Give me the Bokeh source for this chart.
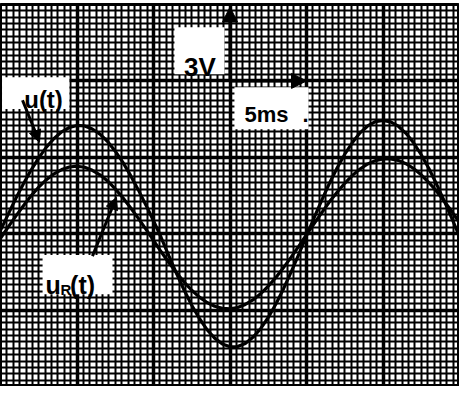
from bokeh.plotting import figure
from bokeh.models import ColumnDataSource, FixedTicker, Label, BoxAnnotation, Arrow, NormalHead
from bokeh.embed import file_html
from bokeh.resources import INLINE
import numpy as np

# time in ms (5 ms per major division), voltage in V (3 V per major division)
t_ms = [0.0, 0.5, 1.0, 1.5, 2.0, 2.5, 3.0, 3.5, 4.0, 4.5, 5.0, 5.5, 6.0, 6.5, 7.0, 7.5,
        8.0, 8.5, 9.0, 9.5, 10.0, 10.5, 11.0, 11.5, 12.0, 12.5, 13.0, 13.5, 14.0, 14.5,
        15.0, 15.5, 16.0, 16.5, 17.0, 17.5, 18.0, 18.5, 19.0, 19.5, 20.0, 20.5, 21.0,
        21.5, 22.0, 22.5, 23.0, 23.5, 24.0, 24.5, 25.0, 25.5, 26.0, 26.5, 27.0, 27.5,
        28.0, 28.5, 29.0, 29.5, 30.0]
u_t = [0.13, 0.76, 1.38, 1.96, 2.50, 2.98, 3.40, 3.74, 4.00, 4.17, 4.25, 4.23, 4.11, 3.91,
       3.62, 3.24, 2.80, 2.29, 1.73, 1.13, 0.51, -0.15, -0.86, -1.56, -2.21, -2.81, -3.33,
       -3.77, -4.10, -4.33, -4.44, -4.43, -4.31, -4.07, -3.73, -3.29, -2.76, -2.16, -1.50,
       -0.80, -0.09, 0.63, 1.32, 1.98, 2.58, 3.12, 3.58, 3.96, 4.23, 4.40, 4.45, 4.39, 4.22,
       3.94, 3.57, 3.10, 2.56, 1.95, 1.29, 0.60, -0.11]
uR_t = [-0.18, 0.26, 0.69, 1.10, 1.49, 1.83, 2.12, 2.35, 2.52, 2.62, 2.65, 2.61, 2.49, 2.31,
        2.07, 1.76, 1.41, 1.02, 0.61, 0.18, -0.26, -0.71, -1.13, -1.53, -1.90, -2.22, -2.49,
        -2.70, -2.85, -2.93, -2.95, -2.90, -2.78, -2.60, -2.36, -2.06, -1.72, -1.33, -0.92,
        -0.49, -0.04, 0.40, 0.83, 1.25, 1.63, 1.98, 2.29, 2.54, 2.74, 2.87, 2.94, 2.94, 2.88,
        2.75, 2.56, 2.31, 2.01, 1.67, 1.28, 0.87, 0.44]

x_major = [0, 5, 10, 15, 20, 25, 30]
y_major = [-6, -3, 0, 3, 6, 9]
label_u = "u(t)"
label_uR = ("u", "R", "(t)")
label_volt = "3V"
label_time = "5ms"

source = ColumnDataSource(data=dict(t=t_ms, u=u_t, uR=uR_t))

p = figure(width=459, height=386, x_range=(0, 30), y_range=(-6, 9),
           x_axis_location=None, y_axis_location=None,
           toolbar_location=None, output_backend="svg",
           min_border_left=0, min_border_right=0, min_border_top=4, min_border_bottom=0)
p.background_fill_color = "white"
p.border_fill_color = "white"
p.outline_line_color = "black"
p.outline_line_width = 3

x_minor = [float(v) for v in np.arange(0, 30.001, 5 / 12)]
y_minor = [float(v) for v in np.arange(-6, 9.001, 0.25)]
p.xgrid.ticker = FixedTicker(ticks=x_major, minor_ticks=x_minor)
p.ygrid.ticker = FixedTicker(ticks=y_major, minor_ticks=y_minor)
for g in (p.xgrid, p.ygrid):
    g.grid_line_color = "black"
    g.grid_line_width = 3.5
    g.grid_line_alpha = 1
    g.minor_grid_line_color = "black"
    g.minor_grid_line_width = 2
    g.minor_grid_line_alpha = 1

p.line("t", "u", source=source, line_color="black", line_width=3.2)
p.line("t", "uR", source=source, line_color="black", line_width=3.2)

font = "Liberation Sans"

def white_box(l, r, b, t):
    p.add_layout(BoxAnnotation(left=l, right=r, bottom=b, top=t, fill_color="white",
                               fill_alpha=1, line_alpha=0))

white_box(0.1, 4.5, 4.9, 6.14)
white_box(2.75, 7.32, -2.38, -0.84)
white_box(11.37, 14.64, 6.26, 8.11)
white_box(15.29, 20.13, 4.10, 5.75)

def lab(x, y, txt, size):
    p.add_layout(Label(x=x, y=y, text=txt, text_font=font, text_font_size=f"{size}px",
                       text_font_style="bold", text_color="black",
                       text_baseline="alphabetic", text_align="left"))

lab(1.55, 5.28, label_u, 24)
lab(2.94, -2.02, label_uR[0], 25)
lab(3.92, -2.18, label_uR[1], 15)
lab(4.55, -2.02, label_uR[2], 25)
lab(12.0, 6.54, label_volt, 26)
lab(15.95, 4.69, label_time, 22)
lab(19.74, 4.69, ".", 22)

def arrow(x0, y0, x1, y1, size=12):
    p.add_layout(Arrow(x_start=x0, y_start=y0, x_end=x1, y_end=y1, line_width=3,
                       line_color="black",
                       end=NormalHead(size=size, fill_color="black", line_color="black")))

arrow(15, 6, 15, 8.9, 15)
arrow(15, 6, 20, 6, 15)
arrow(1.44, 5.24, 2.55, 3.59, 12)
arrow(6.01, -0.88, 7.58, 1.43, 12)

open("out.html", "w").write(file_html(p, INLINE))
